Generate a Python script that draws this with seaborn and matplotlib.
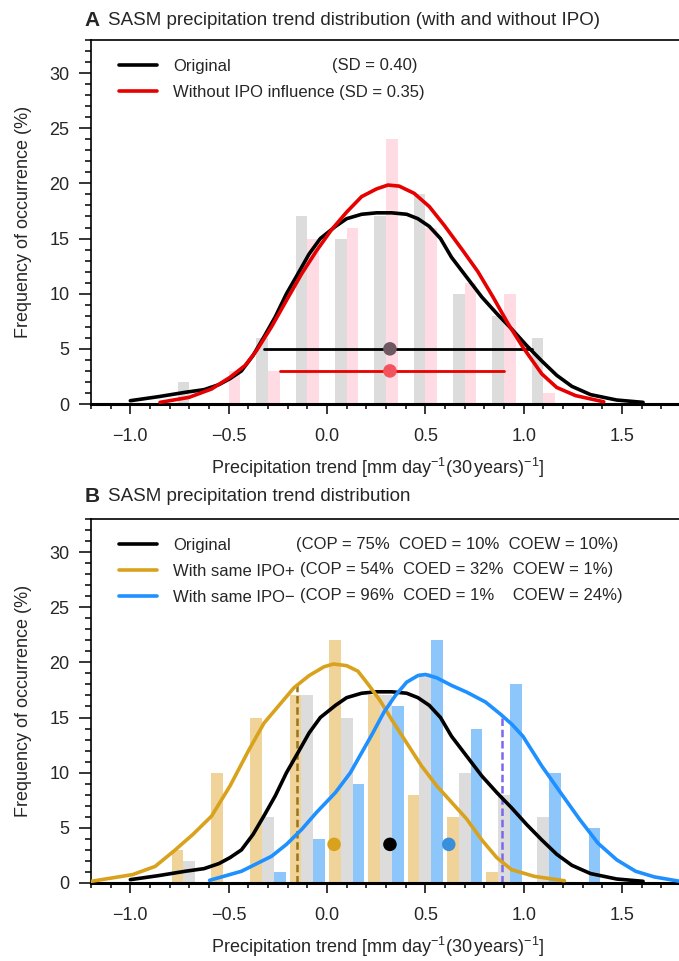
import matplotlib
matplotlib.use("Agg")
import matplotlib.pyplot as plt
from matplotlib.ticker import MultipleLocator, FuncFormatter
import pandas as pd
import seaborn as sns

# ---- histogram data (bin centres in mm/day per 30 yr, frequency in %) ----
bins_a = [-0.7, -0.5, -0.3, -0.1, 0.1, 0.3, 0.5, 0.7, 0.9, 1.1]
freq_orig_a = [2, 0, 6, 17, 15, 17, 19, 10, 8, 6]
freq_noipo_a = [0, 3, 3, 15, 16, 24, 16, 11, 10, 1]

bins_b = [-0.7, -0.5, -0.3, -0.1, 0.1, 0.3, 0.5, 0.7, 0.9, 1.1, 1.3]
freq_pos_b = [3, 10, 15, 17, 22, 17, 8, 6, 1, 0, 0]
freq_orig_b = [2, 0, 6, 17, 15, 17, 19, 10, 8, 6, 0]
freq_neg_b = [0, 0, 1, 4, 9, 16, 22, 14, 18, 10, 5]

# ---- smoothed pdf curves ----
orig_x = [-1.0, -0.855, -0.721, -0.625, -0.549, -0.493, -0.435, -0.376, -0.32, -0.263,
          -0.206, -0.148, -0.091, -0.034, 0.043, 0.1, 0.176, 0.252, 0.329, 0.405,
          0.462, 0.52, 0.577, 0.633, 0.71, 0.787, 0.863, 0.939, 1.015, 1.092,
          1.168, 1.245, 1.34, 1.473, 1.607]
orig_y = [0.3, 0.67, 1.06, 1.3, 1.76, 2.3, 3.0, 4.4, 6.1, 7.9,
          10.0, 11.8, 13.6, 15.0, 16.1, 16.8, 17.2, 17.33, 17.33, 17.2,
          16.8, 16.1, 15.0, 13.3, 11.5, 9.7, 8.2, 6.8, 5.3, 3.9,
          2.6, 1.6, 0.85, 0.36, 0.15]

noipo_x = [-0.849, -0.702, -0.587, -0.493, -0.416, -0.358, -0.282, -0.206, -0.129,
           -0.053, 0.023, 0.1, 0.176, 0.252, 0.31, 0.367, 0.443, 0.52, 0.596,
           0.691, 0.767, 0.844, 0.92, 0.996, 1.092, 1.168, 1.264, 1.407]
noipo_y = [0.15, 0.6, 1.36, 2.42, 3.5, 4.85, 7.0, 9.4, 11.8,
           13.9, 15.8, 17.4, 18.8, 19.5, 19.85, 19.75, 19.1, 17.9, 16.2,
           13.9, 12.0, 9.7, 7.3, 5.15, 2.73, 1.5, 0.76, 0.2]

pos_x = [-1.198, -0.988, -0.874, -0.778, -0.682, -0.587, -0.493, -0.396, -0.32,
         -0.244, -0.168, -0.091, -0.015, 0.033, 0.1, 0.157, 0.214, 0.271, 0.329,
         0.405, 0.481, 0.558, 0.634, 0.71, 0.787, 0.863, 0.939, 1.054, 1.207]
pos_y = [0.15, 0.76, 1.5, 2.9, 4.4, 6.06, 8.8, 12.1, 14.5,
         16.1, 17.7, 18.8, 19.6, 19.85, 19.7, 19.2, 17.9, 16.5, 14.8,
         12.7, 10.6, 8.8, 7.3, 5.8, 3.9, 2.3, 1.2, 0.6, 0.2]

neg_x = [-0.597, -0.435, -0.282, -0.206, -0.129, -0.053, 0.043, 0.119, 0.176, 0.233,
         0.29, 0.348, 0.405, 0.462, 0.5, 0.558, 0.634, 0.71, 0.806, 0.882,
         0.939, 0.996, 1.092, 1.187, 1.283, 1.378, 1.473, 1.569, 1.664, 1.794]
neg_y = [0.24, 1.06, 2.42, 3.5, 4.85, 6.4, 8.2, 10.0, 11.8, 13.6,
         15.5, 17.0, 18.2, 18.8, 18.9, 18.6, 17.9, 17.3, 16.4, 15.3,
         14.4, 13.3, 10.6, 8.2, 5.8, 3.6, 2.1, 1.06, 0.55, 0.15]

# ---- summary statistics: mean and 5-95% range ----
orig_mean, orig_lo, orig_hi = 0.32, -0.32, 1.04
noipo_mean, noipo_lo, noipo_hi = 0.32, -0.24, 0.90
pos_mean, neg_mean = 0.036, 0.619
pos_thresh, pos_thresh_top = -0.152, 18.0
neg_thresh, neg_thresh_top = 0.888, 15.2

c_grey_bar, c_pink_bar = "#dcdcdc", "#ffdbe4"
c_gold_bar, c_blue_bar = "#efd398", "#8dc6fa"
c_red, c_gold, c_blue = "#e60000", "#d9a21d", "#1e90ff"

sns.set_theme(style="ticks")
plt.rcParams["font.family"] = ["Liberation Sans", "DejaVu Sans"]
plt.rcParams["mathtext.fontset"] = "custom"
plt.rcParams["mathtext.rm"] = "Liberation Sans"
plt.rcParams["mathtext.it"] = "Liberation Sans:italic"
plt.rcParams["mathtext.bf"] = "Liberation Sans:bold"

fig = plt.figure(figsize=(6.79, 9.61), dpi=100)
ax_a = fig.add_axes([0.134, 0.5796, 0.869, 0.3788])
ax_b = fig.add_axes([0.134, 0.0812, 0.869, 0.3788])


def style_axes(ax):
    ax.set_xlim(-1.2, 1.8)
    ax.set_ylim(0, 33)
    ax.xaxis.set_major_locator(MultipleLocator(0.5))
    ax.xaxis.set_minor_locator(MultipleLocator(0.1))
    ax.yaxis.set_major_locator(MultipleLocator(5))
    ax.yaxis.set_minor_locator(MultipleLocator(1))
    ax.xaxis.set_major_formatter(FuncFormatter(lambda v, p: f"{v:.1f}".replace("-", "\u2212")))
    ax.yaxis.set_major_formatter(FuncFormatter(lambda v, p: f"{v:.0f}"))
    ax.tick_params(which="both", direction="out", top=False, right=False,
                   labelsize=13, color="black", width=1.1)
    ax.tick_params(axis="x", which="major", length=7.5, pad=10)
    ax.tick_params(axis="x", which="minor", length=3.8)
    ax.tick_params(axis="y", which="major", length=8.5, pad=7)
    ax.tick_params(axis="y", which="minor", length=4.3)
    for s in ax.spines.values():
        s.set_visible(True)
        s.set_color("black")
        s.set_linewidth(1.2)
    ax.spines["bottom"].set_linewidth(2.2)
    ax.set_xlabel(r"Precipitation trend [mm day$^{-1}$(30$\,$years)$^{-1}$]", fontsize=13)
    ax.set_ylabel("Frequency of occurrence (%)", fontsize=13)
    ax.xaxis.set_label_coords(0.486, -0.143)
    ax.yaxis.set_label_coords(-0.1, 0.5)


def add_legend(ax, handles, labels):
    ax.legend(handles, labels, loc="upper left", bbox_to_anchor=(0.047, 0.949),
              frameon=False, fontsize=12, handlelength=2.3, handletextpad=0.95,
              labelspacing=0.66, borderpad=0, borderaxespad=0)


# ---------------- panel A ----------------
df_a = pd.DataFrame({
    "trend": bins_a * 2,
    "freq": freq_orig_a + freq_noipo_a,
    "run": ["orig"] * len(bins_a) + ["noipo"] * len(bins_a),
})
sns.barplot(data=df_a, x="trend", y="freq", hue="run", hue_order=["orig", "noipo"],
            palette=[c_grey_bar, c_pink_bar], native_scale=True, width=0.6,
            saturation=1, errorbar=None, legend=False, linewidth=0, ax=ax_a, zorder=1)

sns.lineplot(x=orig_x, y=orig_y, color="black", linewidth=2.6, ax=ax_a, zorder=3)
h_orig = ax_a.lines[-1]
sns.lineplot(x=noipo_x, y=noipo_y, color=c_red, linewidth=2.6, ax=ax_a, zorder=3)
h_noipo = ax_a.lines[-1]

ax_a.plot([orig_lo, orig_hi], [5, 5], color="black", lw=2.0, zorder=2)
ax_a.plot([noipo_lo, noipo_hi], [3, 3], color=c_red, lw=2.0, zorder=2)
sns.scatterplot(x=[orig_mean], y=[5], color="#6e5862", s=95, edgecolor="none", ax=ax_a, zorder=4)
sns.scatterplot(x=[noipo_mean], y=[3], color="#f2545e", s=95, edgecolor="none", ax=ax_a, zorder=4)

style_axes(ax_a)
add_legend(ax_a, [h_orig, h_noipo], ["Original", "Without IPO influence (SD = 0.35)"])
ax_a.text(0.408, 0.931, "(SD = 0.40)", transform=ax_a.transAxes, fontsize=12,
          ha="left", va="center")

# ---------------- panel B ----------------
df_b = pd.DataFrame({
    "trend": bins_b * 3,
    "freq": freq_pos_b + freq_orig_b + freq_neg_b,
    "run": ["pos"] * len(bins_b) + ["orig"] * len(bins_b) + ["neg"] * len(bins_b),
})
sns.barplot(data=df_b, x="trend", y="freq", hue="run", hue_order=["pos", "orig", "neg"],
            palette=[c_gold_bar, c_grey_bar, c_blue_bar], native_scale=True, width=0.9,
            saturation=1, errorbar=None, legend=False, linewidth=0, ax=ax_b, zorder=1)

ax_b.plot([pos_thresh, pos_thresh], [0, pos_thresh_top], color="#9a7418",
          lw=1.8, ls=(0, (3, 1.5)), zorder=2)
ax_b.plot([neg_thresh, neg_thresh], [0, neg_thresh_top], color="#7b68ee",
          lw=1.8, ls=(0, (3, 1.5)), zorder=2)

sns.lineplot(x=orig_x, y=orig_y, color="black", linewidth=2.6, ax=ax_b, zorder=3)
h_orig_b = ax_b.lines[-1]
sns.lineplot(x=pos_x, y=pos_y, color=c_gold, linewidth=2.6, ax=ax_b, zorder=3)
h_pos = ax_b.lines[-1]
sns.lineplot(x=neg_x, y=neg_y, color=c_blue, linewidth=2.6, ax=ax_b, zorder=3)
h_neg = ax_b.lines[-1]

sns.scatterplot(x=[pos_mean, orig_mean, neg_mean], y=[3.5, 3.5, 3.5],
                hue=["p", "o", "n"], palette=[c_gold, "black", "#3a8fdc"],
                s=95, edgecolor="none", legend=False, ax=ax_b, zorder=4)

style_axes(ax_b)
add_legend(ax_b, [h_orig_b, h_pos, h_neg], ["Original", "With same IPO+", "With same IPO\u2212"])
stats_b = ["(COP = 75%  COED = 10%  COEW = 10%)",
           "(COP = 54%  COED = 32%  COEW = 1%)",
           "(COP = 96%  COED = 1%    COEW = 24%)"]
for txt, xx, yy in zip(stats_b, [0.347, 0.355, 0.355], [0.931, 0.860, 0.791]):
    ax_b.text(xx, yy, txt, transform=ax_b.transAxes, fontsize=12, ha="left", va="center")

# ---------------- panel titles ----------------
fig.text(0.125, 0.979, "A", fontsize=15, fontweight="bold", ha="left", va="center")
fig.text(0.159, 0.979, "SASM precipitation trend distribution (with and without IPO)",
         fontsize=13.5, ha="left", va="center")
fig.text(0.125, 0.483, "B", fontsize=15, fontweight="bold", ha="left", va="center")
fig.text(0.159, 0.483, "SASM precipitation trend distribution",
         fontsize=13.5, ha="left", va="center")

fig.savefig("out.png", dpi=100)
